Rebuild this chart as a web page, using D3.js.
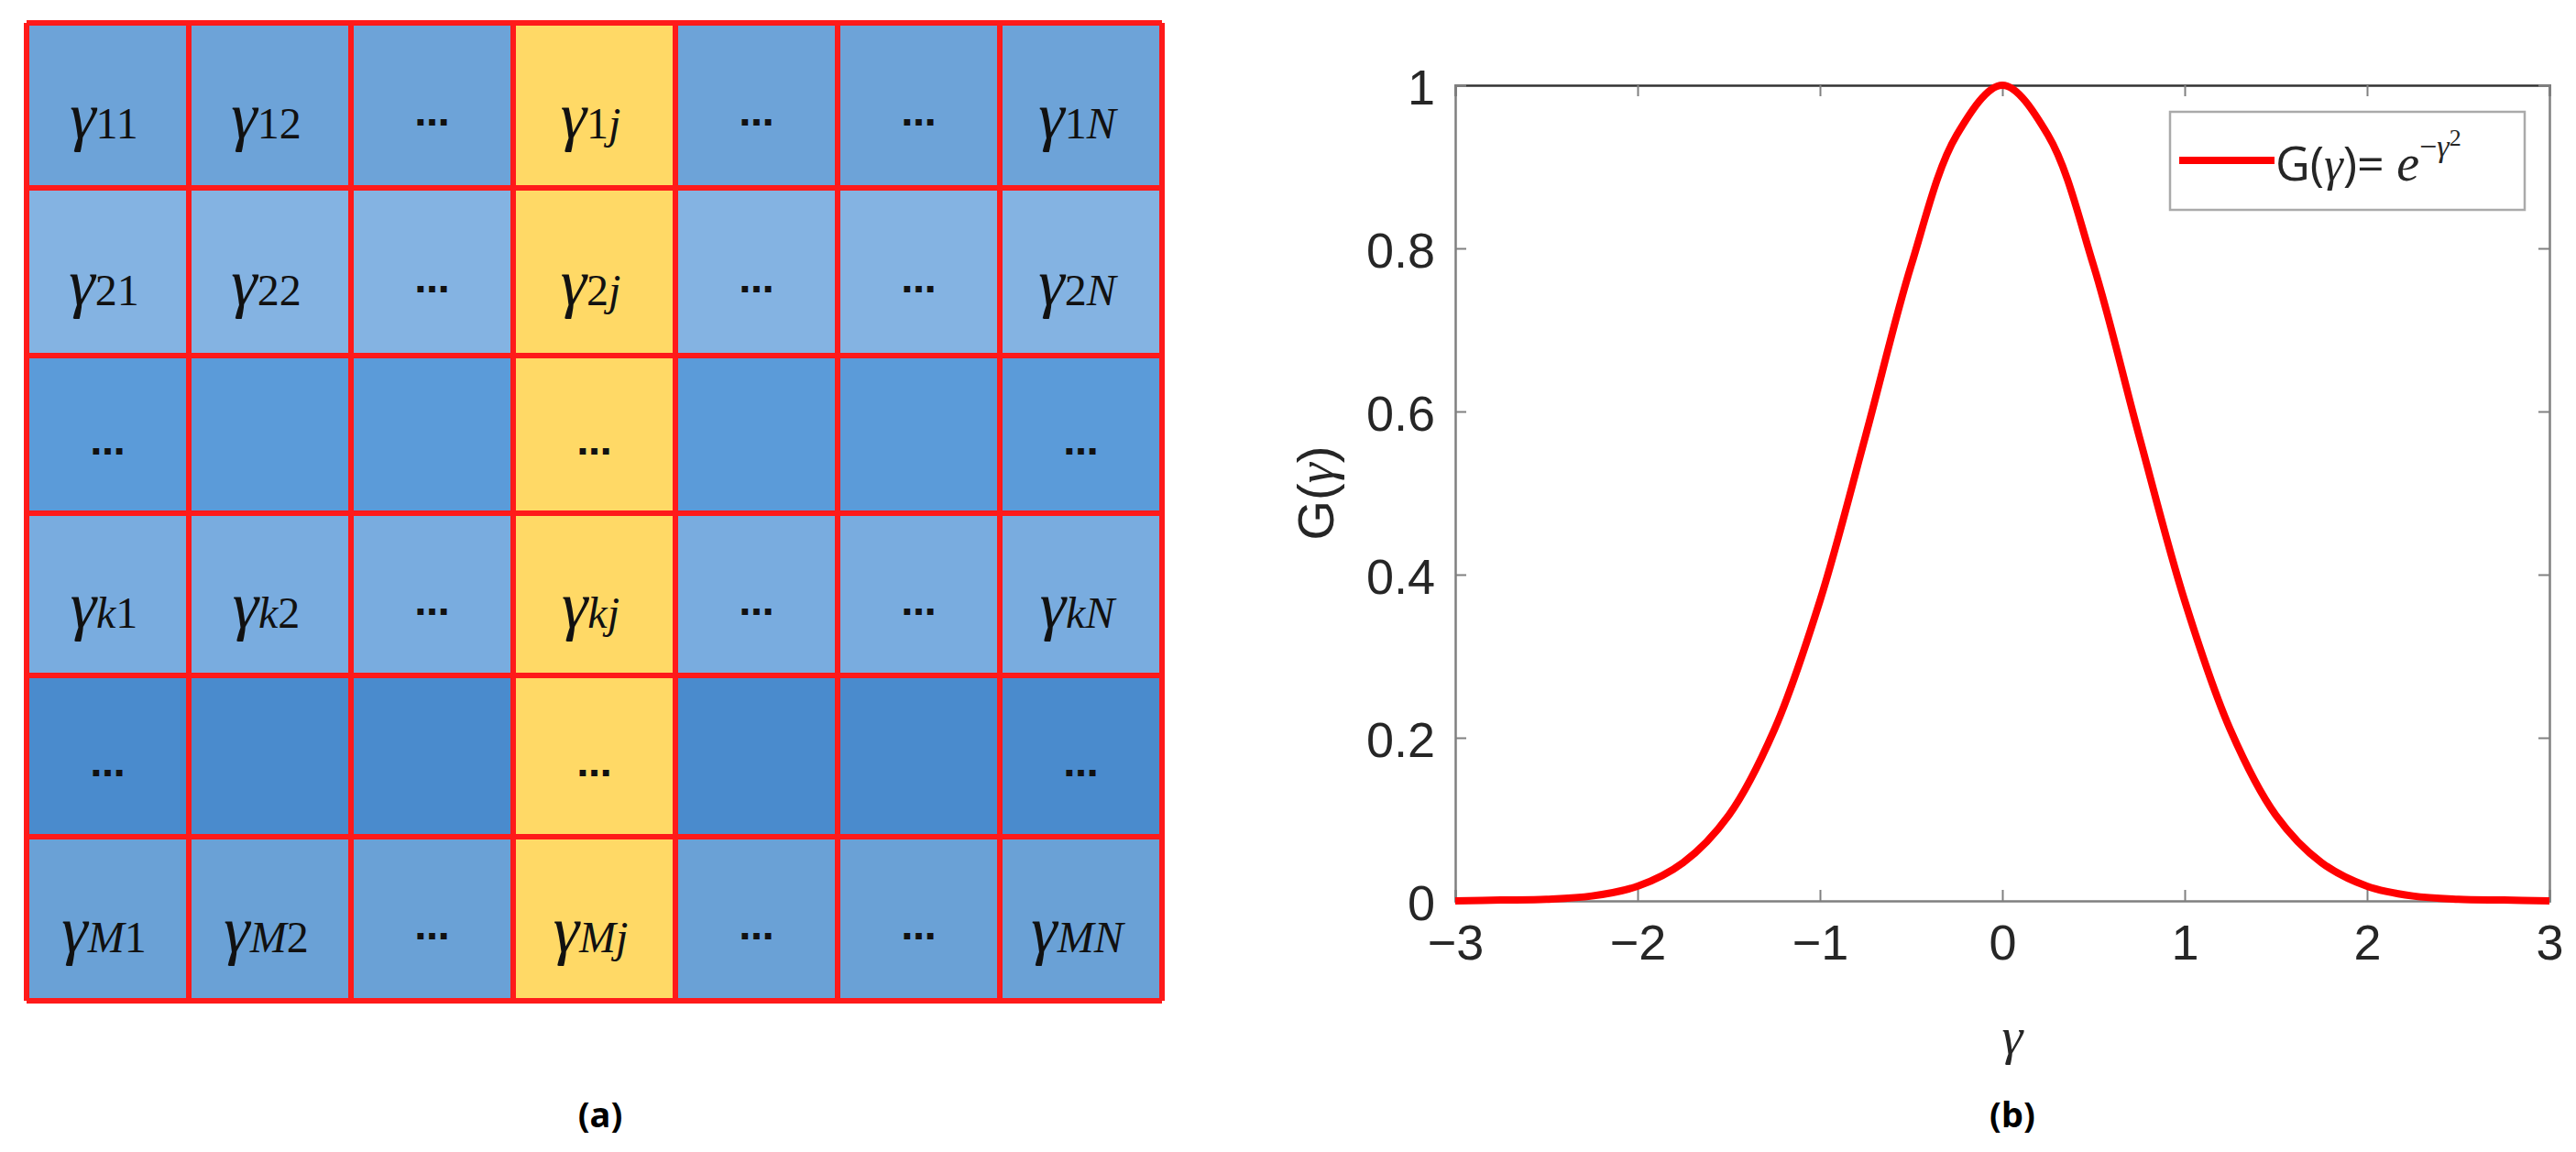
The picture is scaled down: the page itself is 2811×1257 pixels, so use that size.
<!DOCTYPE html>
<html><head><meta charset="utf-8">
<script src="https://cdn.jsdelivr.net/npm/d3@7"></script>
<style>body{margin:0;background:#fff}</style></head>
<body><svg id="c" width="2811" height="1257"></svg>
<script>
// ---- data ----
const rowIds = ["1","2","…","k","…","M"];
const colIds = ["1","2","…","j","…","…","N"];
const rowColors = ["#6da3d8","#84b3e2","#5b9bd9","#79acdf","#4a8bcd","#6aa1d6"];
const highlightCol = 3;
const gammaX = [-3,-2.75,-2.5,-2.25,-2,-1.75,-1.5,-1.25,-1,-0.75,-0.5,-0.25,0,0.25,0.5,0.75,1,1.25,1.5,1.75,2,2.25,2.5,2.75,3];
const gammaY = [0,0.001,0.002,0.006,0.018,0.047,0.105,0.21,0.368,0.57,0.779,0.939,1,0.939,0.779,0.57,0.368,0.21,0.105,0.047,0.018,0.006,0.002,0.001,0];
const xTicks = [-3,-2,-1,0,1,2,3];
const yTicks = [0,0.2,0.4,0.6,0.8,1];

const svg = d3.select("#c");
// ---- panel (a) grid ----
const gx = d3.scaleBand().domain(d3.range(colIds.length)).range([29,1268]);
const rowEdges = [25,205,388,560,737,913,1092];
const gy = i => rowEdges[i], gh = i => rowEdges[i+1]-rowEdges[i];
const ga = svg.append("g");
rowIds.forEach((r,i)=>{
  colIds.forEach((c,j)=>{
    ga.append("rect").attr("x",gx(j)).attr("y",gy(i)).attr("width",gx.bandwidth()).attr("height",gh(i))
      .attr("fill", j===highlightCol ? "#ffd966" : rowColors[i]);
    const cx = gx(j)+gx.bandwidth()/2, cy = gy(i)+gh(i)/2;
    const isDots = r==="…" || c==="…";
    if (isDots) {
      const show = r!=="…" || j===0 || j===highlightCol || j===colIds.length-1;
      if (show) ga.append("text").attr("x",cx).attr("y",cy+22).attr("text-anchor","middle")
        .attr("font-family","DejaVu Sans").attr("font-weight","bold").attr("font-size",38).attr("fill","#111").text("…");
    } else {
      const t = ga.append("text").attr("x",cx-4).attr("y",cy+36).attr("text-anchor","middle")
        .attr("font-family","Liberation Serif").attr("fill","#111");
      t.append("tspan").attr("font-style","italic").attr("font-size",72).text("γ");
      const sub = r+c;
      for (const ch of sub) {
        t.append("tspan").attr("font-size",48).attr("dy", 0)
          .attr("font-style", /[0-9]/.test(ch) ? "normal":"italic").text(ch);
      }
    }
  });
});
// borders
const lines = ga.append("g").attr("stroke","#ff1a1a").attr("stroke-width",6).attr("fill","none");
d3.range(colIds.length+1).forEach(j=>{
  const x = j<colIds.length ? gx(j) : gx(colIds.length-1)+gx.bandwidth();
  lines.append("line").attr("x1",x).attr("x2",x).attr("y1",rowEdges[0]).attr("y2",rowEdges[rowEdges.length-1]);
});
rowEdges.forEach(y=>lines.append("line").attr("x1",29).attr("x2",1268).attr("y1",y).attr("y2",y));
svg.append("text").attr("x",655).attr("y",1230).attr("text-anchor","middle")
  .attr("font-family","Noto Sans").attr("font-weight","bold").attr("font-size",38).text("(a)");

// ---- panel (b) ----
const x = d3.scaleLinear().domain([-3,3]).range([1588,2782]);
const y = d3.scaleLinear().domain([0,1]).range([983,93]);
const gb = svg.append("g");
const xa = gb.append("g").attr("transform","translate(0,983)").call(d3.axisBottom(x).tickValues(xTicks).tickSize(-12).tickPadding(26).tickFormat(d3.format("d")));
gb.append("g").attr("transform","translate(0,93)").call(d3.axisTop(x).tickValues(xTicks).tickSize(-12).tickFormat(""));
const ya = gb.append("g").attr("transform","translate(1588,0)").call(d3.axisLeft(y).tickValues(yTicks).tickSize(-12).tickPadding(22).tickFormat(d=>d===0||d===1?d3.format("d")(d):d3.format(".1f")(d)));
gb.append("g").attr("transform","translate(2782,0)").call(d3.axisRight(y).tickValues(yTicks).tickSize(-12).tickFormat(""));
gb.selectAll(".domain").attr("stroke","#808080").attr("stroke-width",2.5);
gb.selectAll(".tick line").attr("stroke","#808080").attr("stroke-width",2);
gb.selectAll(".tick text").attr("font-family","Liberation Sans").attr("font-size",54).attr("fill","#262626");
ya.selectAll(".tick text").attr("dy","0.38em");
gb.selectAll(".domain").filter((d,i)=>i===1).attr("stroke","#333");

gb.append("path").datum(gammaX.map((v,i)=>[v,gammaY[i]]))
  .attr("d", d3.line().x(d=>x(d[0])).y(d=>y(d[1])).curve(d3.curveCatmullRom))
  .attr("fill","none").attr("stroke","#ff0000").attr("stroke-width",8);

// legend
gb.append("rect").attr("x",2368).attr("y",122).attr("width",387).attr("height",107).attr("fill","#fff").attr("stroke","#aaa").attr("stroke-width",2.5);
gb.append("line").attr("x1",2378).attr("x2",2482).attr("y1",175).attr("y2",175).attr("stroke","#ff0000").attr("stroke-width",8);
const lt = gb.append("text").attr("x",2483).attr("y",197).attr("font-family","Open Sans").attr("font-size",52).attr("fill","#262626");
lt.append("tspan").text("G(");
lt.append("tspan").attr("font-family","Liberation Serif").attr("font-style","italic").text("γ");
lt.append("tspan").text(")= ");
lt.append("tspan").attr("font-family","Liberation Serif").attr("font-style","italic").attr("font-size",56).text("e");
lt.append("tspan").attr("font-size",34).attr("dy",-26).attr("font-family","Liberation Serif").text("−");
lt.append("tspan").attr("font-size",34).attr("font-family","Liberation Serif").attr("font-style","italic").text("γ");
lt.append("tspan").attr("font-size",26).attr("dy",-12).attr("font-family","Liberation Serif").text("2");

// axis labels
const yl = gb.append("text").attr("transform","translate(1455,538) rotate(-90)").attr("text-anchor","middle")
  .attr("font-family","Liberation Sans").attr("font-size",56).attr("fill","#262626");
yl.append("tspan").text("G(");
yl.append("tspan").attr("font-family","Liberation Serif").attr("font-style","italic").text("γ");
yl.append("tspan").text(")");
gb.append("text").attr("x",2196).attr("y",1150).attr("text-anchor","middle").attr("font-family","Liberation Serif")
  .attr("font-style","italic").attr("font-size",58).attr("fill","#262626").text("γ");
svg.append("text").attr("x",2196).attr("y",1230).attr("text-anchor","middle")
  .attr("font-family","Noto Sans").attr("font-weight","bold").attr("font-size",38).text("(b)");
</script></body></html>
